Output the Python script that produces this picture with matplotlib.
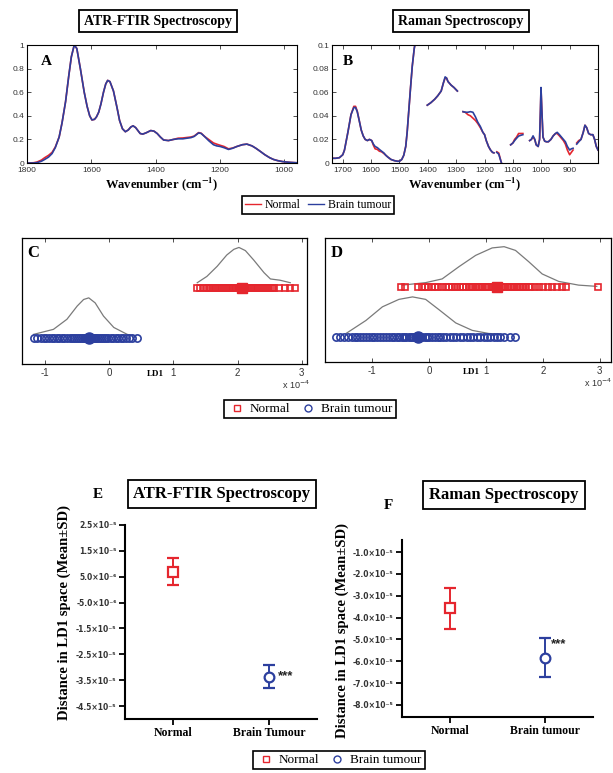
import numpy as np
import matplotlib
matplotlib.use('Agg')
import matplotlib.pyplot as plt
from matplotlib.lines import Line2D
from matplotlib.transforms import blended_transform_factory

# ---------------- data ----------------
# Panel A: ATR-FTIR mean spectra (normalised absorbance)
wn_a = [1800, 1780, 1769, 1755, 1745, 1733, 1722, 1712, 1700, 1691, 1680, 1670, 1662, 1653, 1645,
        1634, 1622, 1613, 1605, 1598, 1590, 1584, 1577, 1570, 1562, 1555, 1549, 1542, 1531, 1520,
        1512, 1503, 1494, 1485, 1477, 1470, 1462, 1455, 1448, 1440, 1430, 1415, 1405, 1395, 1385,
        1375, 1360, 1344, 1330, 1315, 1303, 1290, 1280, 1266, 1258, 1246, 1235, 1220, 1210, 1199,
        1187, 1173, 1160, 1147, 1130, 1116, 1100, 1088, 1075, 1060, 1045, 1033, 1020, 1005, 992,
        980, 961]
ftir_tumour = [0.000, 0.000, 0.003, 0.015, 0.030, 0.050, 0.080, 0.130, 0.220, 0.340, 0.520, 0.740,
               0.900, 1.000, 0.970, 0.800, 0.600, 0.480, 0.400, 0.365, 0.370, 0.390, 0.430, 0.500,
               0.600, 0.670, 0.700, 0.690, 0.610, 0.470, 0.360, 0.290, 0.265, 0.280, 0.305, 0.315,
               0.300, 0.275, 0.250, 0.245, 0.255, 0.275, 0.270, 0.250, 0.220, 0.195, 0.190, 0.200,
               0.205, 0.205, 0.210, 0.215, 0.225, 0.255, 0.250, 0.220, 0.190, 0.155, 0.145, 0.140,
               0.130, 0.115, 0.125, 0.140, 0.155, 0.160, 0.145, 0.125, 0.100, 0.070, 0.045, 0.030,
               0.020, 0.012, 0.008, 0.005, 0.002]
ftir_normal = [0.000, 0.002, 0.008, 0.025, 0.045, 0.065, 0.090, 0.135, 0.220, 0.340, 0.520, 0.740,
               0.900, 1.000, 0.970, 0.800, 0.600, 0.480, 0.400, 0.365, 0.370, 0.390, 0.430, 0.500,
               0.600, 0.670, 0.700, 0.690, 0.610, 0.470, 0.360, 0.290, 0.265, 0.280, 0.305, 0.315,
               0.300, 0.275, 0.250, 0.245, 0.255, 0.275, 0.270, 0.250, 0.220, 0.195, 0.190, 0.200,
               0.210, 0.212, 0.216, 0.220, 0.228, 0.258, 0.252, 0.222, 0.200, 0.170, 0.160, 0.150,
               0.140, 0.120, 0.127, 0.140, 0.155, 0.160, 0.145, 0.125, 0.100, 0.070, 0.045, 0.030,
               0.020, 0.012, 0.008, 0.005, 0.002]

# Panel B: Raman mean spectra (NaN = removed region)
nan = float('nan')
wn_b = [1735, 1725, 1712, 1700, 1694, 1682, 1671, 1661, 1655, 1649, 1642, 1635, 1628, 1621, 1613,
        1606, 1598, 1592, 1586, 1578, 1571, 1563, 1555, 1548, 1541, 1530, 1518, 1508, 1500, 1492,
        1485, 1478, 1473, 1467, 1461, 1455, 1448, 1445, 1420,
        1402, 1390, 1376, 1365, 1353, 1345, 1339, 1334, 1329, 1318, 1308, 1296, 1285,
        1276, 1268, 1259, 1250, 1241, 1232, 1224, 1215, 1206, 1200, 1194, 1186, 1179, 1172, 1167, 1162,
        1157, 1150, 1145, 1141, 1125,
        1108, 1100, 1094, 1087, 1080, 1072, 1065, 1055,
        1041, 1035, 1029, 1023, 1018, 1011, 1006, 1003, 1001, 998, 994, 988, 982, 975, 966, 958,
        950, 944, 936, 929, 922, 915, 908, 900, 894, 888, 881,
        875, 868, 860, 852, 846, 840, 833, 826, 818, 812, 806, 800]
raman_tumour = [0.004, 0.004, 0.0045, 0.007, 0.011, 0.026, 0.041, 0.047, 0.047, 0.0435, 0.036, 0.028,
                0.023, 0.020, 0.019, 0.020, 0.019, 0.016, 0.014, 0.013, 0.0115, 0.010, 0.0085, 0.0065,
                0.005, 0.003, 0.002, 0.0015, 0.0015, 0.003, 0.0065, 0.014, 0.026, 0.045, 0.064, 0.082,
                0.097, 0.101, nan,
                0.049, 0.051, 0.054, 0.057, 0.061, 0.068, 0.073, 0.072, 0.069, 0.066, 0.064, 0.061, nan,
                0.0435, 0.043, 0.043, 0.0435, 0.043, 0.039, 0.0346, 0.031, 0.026, 0.024, 0.019, 0.014,
                0.011, 0.009, 0.0086, nan,
                0.009, 0.0075, 0.0035, 0.0005, nan,
                0.0154, 0.017, 0.019, 0.021, 0.0228, 0.0235, 0.024, nan,
                0.019, 0.020, 0.023, 0.020, 0.0154, 0.014, 0.020, 0.045, 0.064, 0.045, 0.022, 0.0185,
                0.018, 0.018, 0.020, 0.023, 0.025, 0.026, 0.024, 0.022, 0.020, 0.018, 0.014, 0.011,
                0.012, 0.0125, nan,
                0.016, 0.018, 0.020, 0.026, 0.032, 0.030, 0.025, 0.024, 0.024, 0.020, 0.014, 0.011]
raman_normal = [0.004, 0.004, 0.0045, 0.007, 0.011, 0.026, 0.041, 0.048, 0.048, 0.044, 0.036, 0.028,
                0.023, 0.020, 0.019, 0.020, 0.019, 0.015, 0.012, 0.0115, 0.010, 0.0095, 0.008, 0.0065,
                0.005, 0.003, 0.002, 0.0015, 0.0015, 0.003, 0.0065, 0.014, 0.026, 0.045, 0.064, 0.082,
                0.097, 0.101, nan,
                0.049, 0.051, 0.054, 0.057, 0.061, 0.068, 0.072, 0.072, 0.069, 0.066, 0.064, 0.061, nan,
                0.0435, 0.043, 0.041, 0.040, 0.038, 0.036, 0.0335, 0.030, 0.026, 0.024, 0.019, 0.014,
                0.011, 0.009, 0.0086, nan,
                0.0095, 0.0085, 0.004, 0.0005, nan,
                0.0154, 0.017, 0.020, 0.022, 0.025, 0.025, 0.025, nan,
                0.019, 0.020, 0.022, 0.020, 0.0154, 0.014, 0.020, 0.044, 0.063, 0.044, 0.022, 0.0185,
                0.018, 0.018, 0.020, 0.023, 0.025, 0.025, 0.023, 0.021, 0.019, 0.016, 0.011, 0.007,
                0.009, 0.011, nan,
                0.017, 0.019, 0.020, 0.026, 0.032, 0.030, 0.025, 0.024, 0.024, 0.020, 0.014, 0.011]

# Panels C / D: LD1 scores (x 1e-4)
c_normal = [1.37, 1.42, 1.48, 1.52, 1.55, 1.58, 1.61, 1.64, 1.67, 1.70, 1.73, 1.76, 1.79, 1.82,
            1.85, 1.88, 1.91, 1.93, 1.96, 1.98, 2.00, 2.02, 2.04, 2.06, 2.08, 2.10, 2.12, 2.15,
            2.17, 2.20, 2.23, 2.26, 2.29, 2.32, 2.35, 2.38, 2.41, 2.44, 2.47, 2.50, 2.53, 2.56,
            2.65, 2.74, 2.82, 2.90]
c_tumour = [-1.18, -1.12, -1.06, -1.02, -0.98, -0.94, -0.90, -0.86, -0.82, -0.78, -0.74, -0.70,
            -0.66, -0.62, -0.58, -0.55, -0.52, -0.49, -0.46, -0.43, -0.40, -0.38, -0.36, -0.34,
            -0.32, -0.30, -0.28, -0.26, -0.24, -0.22, -0.20, -0.17, -0.14, -0.11, -0.08, -0.05,
            -0.02, 0.02, 0.06, 0.10, 0.14, 0.18, 0.22, 0.26, 0.30, 0.36, 0.43]
d_normal = [-0.50, -0.42, -0.20, -0.13, -0.07, -0.01, 0.05, 0.11, 0.16, 0.23, 0.30, 0.35, 0.40,
            0.45, 0.50, 0.55, 0.60, 0.65, 0.70, 0.74, 0.78, 0.82, 0.86, 0.90, 0.94, 0.98, 1.02,
            1.06, 1.10, 1.14, 1.18, 1.22, 1.26, 1.30, 1.34, 1.38, 1.42, 1.46, 1.50, 1.54, 1.58,
            1.62, 1.66, 1.70, 1.75, 1.80, 1.86, 1.93, 2.01, 2.09, 2.17, 2.25, 2.33, 2.40, 2.98]
d_tumour = [-1.64, -1.57, -1.49, -1.42, -1.36, -1.31, -1.26, -1.21, -1.16, -1.11, -1.06, -1.01,
            -0.96, -0.91, -0.86, -0.81, -0.76, -0.71, -0.66, -0.61, -0.56, -0.52, -0.48, -0.44,
            -0.40, -0.36, -0.32, -0.28, -0.24, -0.20, -0.16, -0.12, -0.08, -0.04, 0.00, 0.05,
            0.10, 0.15, 0.20, 0.25, 0.30, 0.36, 0.42, 0.48, 0.54, 0.60, 0.66, 0.72, 0.78, 0.84,
            0.90, 0.96, 1.02, 1.08, 1.14, 1.20, 1.25, 1.31, 1.43, 1.52]
c_means = {'Normal': 2.07, 'Brain tumour': -0.32}
d_means = {'Normal': 1.20, 'Brain tumour': -0.20}

# density curves (height above the marker row, arbitrary units)
kde_c_normal_x = [1.37, 1.52, 1.68, 1.83, 1.94, 2.02, 2.12, 2.25, 2.41, 2.51, 2.66, 2.82]
kde_c_normal_h = [0.04, 0.09, 0.17, 0.26, 0.305, 0.32, 0.295, 0.22, 0.12, 0.07, 0.06, 0.04]
kde_c_tumour_x = [-1.18, -0.87, -0.66, -0.50, -0.40, -0.32, -0.22, -0.09, 0.07, 0.28, 0.38]
kde_c_tumour_h = [0.03, 0.07, 0.15, 0.255, 0.307, 0.32, 0.28, 0.175, 0.085, 0.03, 0.018]
kde_d_normal_x = [-0.47, -0.06, 0.23, 0.53, 0.82, 1.11, 1.32, 1.52, 1.75, 1.99, 2.28, 2.63, 2.95]
kde_d_normal_h = [0.015, 0.035, 0.065, 0.165, 0.255, 0.315, 0.325, 0.295, 0.205, 0.105, 0.045, 0.015, 0.005]
kde_d_tumour_x = [-1.46, -1.11, -0.82, -0.53, -0.29, -0.06, 0.18, 0.47, 0.76, 1.05, 1.23]
kde_d_tumour_h = [0.025, 0.13, 0.24, 0.30, 0.32, 0.30, 0.215, 0.11, 0.05, 0.025, 0.02]

# Panels E / F: mean +/- SD distance in LD1 space
groups = ['Normal', 'Brain Tumour']
groups_f = ['Normal', 'Brain tumour']
e_mean = [0.69e-5, -3.36e-5]
e_sd = [0.52e-5, 0.43e-5]
f_mean = [-3.57e-5, -5.84e-5]
f_sd = [0.93e-5, 0.89e-5]
e_ticks = [2.5e-5, 1.5e-5, 5e-6, -5e-6, -1.5e-5, -2.5e-5, -3.5e-5, -4.5e-5]
e_ticklabels = ['2.5×10⁻⁵', '1.5×10⁻⁵', '5.0×10⁻⁶', '-5.0×10⁻⁶', '-1.5×10⁻⁵', '-2.5×10⁻⁵',
                '-3.5×10⁻⁵', '-4.5×10⁻⁵']
f_ticks = [-1e-5, -2e-5, -3e-5, -4e-5, -5e-5, -6e-5, -7e-5, -8e-5]
f_ticklabels = ['-1.0×10⁻⁵', '-2.0×10⁻⁵', '-3.0×10⁻⁵', '-4.0×10⁻⁵', '-5.0×10⁻⁵', '-6.0×10⁻⁵',
                '-7.0×10⁻⁵', '-8.0×10⁻⁵']

# ---------------- style ----------------
RED = '#e5262e'
BLUE = '#2c3f9e'
GREY = '#7a7a7a'
SERIF = 'Liberation Serif'
SANS = 'Liberation Sans'
W, H = 613, 773

fig = plt.figure(figsize=(W / 100, H / 100), dpi=100)


def axes_px(l, t, r, b):
    return fig.add_axes([l / W, 1 - b / H, (r - l) / W, (b - t) / H])


def fpos(x, y):
    return (x / W, 1 - y / H)


def title_box(x, y, s, size):
    fig.text(*fpos(x, y), s, ha='center', va='center', fontsize=size, fontweight='bold',
             family=SERIF,
             bbox=dict(boxstyle='square,pad=0.35', fc='white', ec='black', lw=1.3))


def box_legend(handles, labels, x, y, size):
    leg = fig.legend(handles, labels, loc='center', bbox_to_anchor=fpos(x, y), ncol=2,
                     frameon=True, fancybox=False, edgecolor='black', framealpha=1,
                     prop={'family': SERIF, 'size': size}, handlelength=1.4,
                     columnspacing=0.6, handletextpad=0.3, borderpad=0.25, borderaxespad=0)
    leg.get_frame().set_linewidth(1.2)
    return leg


def spec_axes(ax):
    ax.tick_params(direction='in', top=True, right=True, length=3, width=0.6,
                   labelsize=6, colors='#333333', pad=2)
    ax.tick_params(axis='x', pad=3)
    for lab in ax.get_xticklabels() + ax.get_yticklabels():
        lab.set_family(SANS)
    for s in ax.spines.values():
        s.set_linewidth(0.8)
    ax.set_xlabel('Wavenumber (cm$^{\\mathbf{-1}}$)', fontsize=9, fontweight='bold',
                  family=SERIF, math_fontfamily='stix', labelpad=1)


# ---- A ----
axA = axes_px(27, 45, 297, 163)
axA.plot(wn_a, ftir_normal, color=RED, lw=1.2)
axA.plot(wn_a, ftir_tumour, color=BLUE, lw=1.2)
axA.set_xlim(1800, 960)
axA.set_ylim(0, 1)
axA.set_xticks([1800, 1600, 1400, 1200, 1000])
axA.set_yticks([0, 0.2, 0.4, 0.6, 0.8, 1.0])
axA.set_yticklabels(['0', '0.2', '0.4', '0.6', '0.8', '1'])
spec_axes(axA)
axA.text(0.05, 0.86, 'A', transform=axA.transAxes, fontsize=11, fontweight='bold', family=SERIF,
         va='center')
title_box(158, 21, 'ATR-FTIR Spectroscopy', 10)

# ---- B ----
axB = axes_px(332, 45, 598, 163)
axB.plot(wn_b, raman_normal, color=RED, lw=1.2)
axB.plot(wn_b, raman_tumour, color=BLUE, lw=1.2)
axB.set_xlim(1738, 800)
axB.set_ylim(0, 0.1)
axB.set_xticks([1700, 1600, 1500, 1400, 1300, 1200, 1100, 1000, 900])
axB.set_yticks([0, 0.02, 0.04, 0.06, 0.08, 0.1])
axB.set_yticklabels(['0', '0.02', '0.04', '0.06', '0.08', '0.1'])
spec_axes(axB)
axB.text(0.04, 0.86, 'B', transform=axB.transAxes, fontsize=11, fontweight='bold', family=SERIF,
         va='center')
title_box(461, 21, 'Raman Spectroscopy', 10)

box_legend([Line2D([], [], color=RED, lw=1), Line2D([], [], color=BLUE, lw=1)],
           ['Normal', 'Brain tumour'], 318, 205, 8.5)

# ---- C / D ----
LVL_N, LVL_T = 0.605, 0.205


def ld_axes(ax, normal, tumour, means, kn, kt, xlim, letter, ld_x, exp_xy):
    ax.plot(kn[0], np.asarray(kn[1]) + LVL_N, color=GREY, lw=0.9)
    ax.plot(kt[0], np.asarray(kt[1]) + LVL_T, color=GREY, lw=0.9)
    ax.plot(normal, [LVL_N] * len(normal), ls='none', marker='s', ms=5, mfc='none',
            mec=RED, mew=1.2)
    ax.plot(tumour, [LVL_T] * len(tumour), ls='none', marker='o', ms=5.2, mfc='none',
            mec=BLUE, mew=1.2)
    ax.plot([means['Normal']], [LVL_N], marker='s', ms=7.5, color=RED, ls='none')
    ax.plot([means['Brain tumour']], [LVL_T], marker='o', ms=8, color=BLUE, ls='none')
    ax.set_xlim(*xlim)
    ax.set_ylim(0, 1)
    ax.set_yticks([])
    ax.set_xticks([-1, 0, 1, 2, 3])
    ax.set_xticklabels(['-1', '0', '1', '2', '3'])
    ax.tick_params(direction='in', top=True, length=3, width=0.6, labelsize=7,
                   colors='#333333', pad=3)
    for lab in ax.get_xticklabels():
        lab.set_family(SANS)
    for s in ax.spines.values():
        s.set_linewidth(0.9)
    ax.text(0.02, 0.88, letter, transform=ax.transAxes, fontsize=12, fontweight='bold',
            family=SERIF, va='center')
    tr = blended_transform_factory(ax.transData, ax.transAxes)
    ax.text(ld_x, -0.045, 'LD1', transform=tr, fontsize=6.5, fontweight='bold', family=SERIF,
            ha='center', va='top')
    fig.text(*fpos(*exp_xy), 'x 10$^{-4}$', fontsize=6.5, ha='right', va='center',
             family=SANS, color='#333333')


axC = axes_px(22, 238, 307, 364)
ld_axes(axC, c_normal, c_tumour, c_means, (kde_c_normal_x, kde_c_normal_h),
        (kde_c_tumour_x, kde_c_tumour_h), (-1.36, 3.08), 'C', 0.72, (310, 385))
axD = axes_px(325, 238, 611, 362)
ld_axes(axD, d_normal, d_tumour, d_means, (kde_d_normal_x, kde_d_normal_h),
        (kde_d_tumour_x, kde_d_tumour_h), (-1.83, 3.2), 'D', 0.75, (612, 383))

mk_handles = [Line2D([], [], ls='none', marker='s', ms=5, mfc='none', mec=RED, mew=1),
              Line2D([], [], ls='none', marker='o', ms=5, mfc='none', mec=BLUE, mew=1)]
box_legend(mk_handles, ['Normal', 'Brain tumour'], 310, 409, 9.5)


# ---- E / F ----
def dist_axes(ax, labels, mean, sd, ticks, ticklabels, ylim, star_xy, ylabel_y):
    ax.errorbar([1], [mean[0]], yerr=[sd[0]], fmt='s', ms=7, mfc='white', mec=RED, mew=1.6,
                ecolor=RED, elinewidth=1.4, capsize=4, capthick=1.4, zorder=3)
    ax.errorbar([2], [mean[1]], yerr=[sd[1]], fmt='o', ms=7, mfc='white', mec=BLUE, mew=1.6,
                ecolor=BLUE, elinewidth=1.4, capsize=4, capthick=1.4, zorder=3)
    ax.text(star_xy[0], star_xy[1], '***', fontsize=9.5, fontweight='bold', family=SANS,
            ha='left', va='center', color='#222222')
    ax.set_xlim(0.5, 2.5)
    ax.set_ylim(*ylim)
    ax.spines['top'].set_visible(False)
    ax.spines['right'].set_visible(False)
    ax.spines['left'].set_linewidth(1.5)
    ax.spines['bottom'].set_linewidth(1.5)
    ax.set_xticks([1, 2])
    ax.set_xticklabels(labels, fontsize=8.5, fontweight='bold', family=SERIF)
    ax.set_yticks(ticks)
    ax.set_yticklabels(ticklabels, fontsize=5.5, fontweight='bold', family='DejaVu Sans',
                       color='#333333')
    ax.tick_params(axis='both', direction='out', length=4, width=1.3, pad=2)
    ax.set_ylabel('Distance in LD1 space (Mean±SD)', fontsize=10.5, fontweight='bold',
                  family=SERIF)
    ax.yaxis.set_label_coords(-0.28, ylabel_y)


axE = axes_px(125, 525, 317, 719)
dist_axes(axE, groups, e_mean, e_sd, e_ticks, e_ticklabels, (-5.0e-5, 2.5e-5),
          (2.09, -3.36e-5), 0.55)
title_box(222, 494, 'ATR-FTIR Spectroscopy', 12)
fig.text(*fpos(98, 495), 'E', fontsize=11, fontweight='bold', family=SERIF, ha='center',
         va='center')

axF = axes_px(402, 540, 593, 717)
dist_axes(axF, groups_f, f_mean, f_sd, f_ticks, f_ticklabels, (-8.55e-5, -0.45e-5),
          (2.06, -5.2e-5), 0.49)
title_box(504, 495, 'Raman Spectroscopy', 12)
fig.text(*fpos(388, 505), 'F', fontsize=11, fontweight='bold', family=SERIF, ha='center',
         va='center')

box_legend(mk_handles, ['Normal', 'Brain tumour'], 339, 760, 9.5)

fig.savefig('out.png', dpi=100)
